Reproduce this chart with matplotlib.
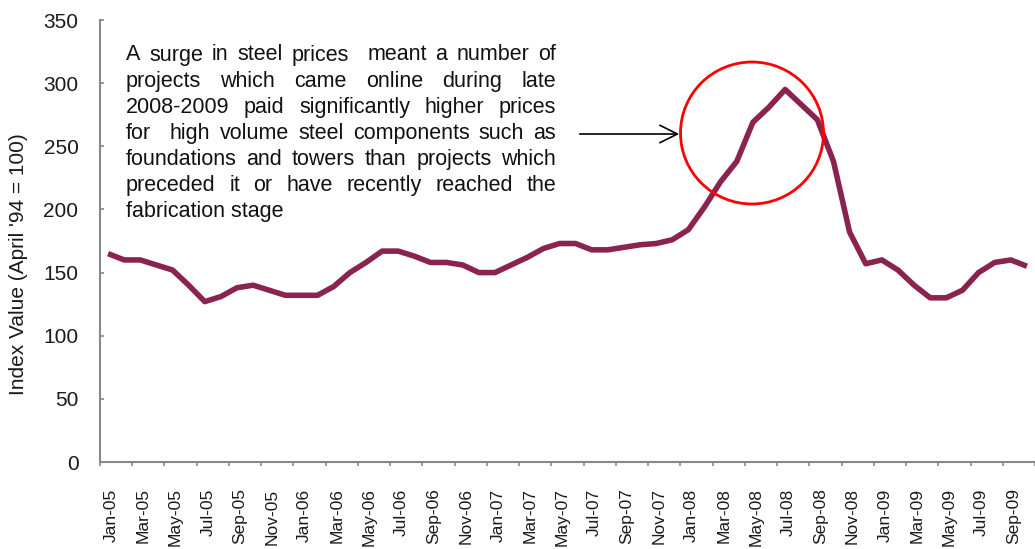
import matplotlib
matplotlib.use("Agg")
import matplotlib.pyplot as plt
import matplotlib.transforms as mtransforms
from matplotlib.patches import Ellipse, FancyArrowPatch

months = ["Jan", "Feb", "Mar", "Apr", "May", "Jun", "Jul", "Aug", "Sep", "Oct", "Nov", "Dec"]
years = ["05", "06", "07", "08", "09"]
categories = [f"{m}-{y}" for y in years for m in months][:58]  # Jan-05 .. Oct-09

values = [165, 160, 160, 156, 152, 140, 127, 131, 138, 140, 136, 132,
          132, 132, 139, 150, 158, 167, 167, 163, 158, 158, 156, 150,
          150, 156, 162, 169, 173, 173, 168, 168, 170, 172, 173, 176,
          184, 202, 222, 238, 269, 281, 295, 283, 271, 238, 182, 157,
          160, 152, 140, 130, 130, 136, 150, 158, 160, 155]

y_ticks = [0, 50, 100, 150, 200, 250, 300, 350]
y_label = "Index Value (April '94 = 100)"
note_lines = [
    "A surge in steel prices  meant a number of",
    "projects which came online during late",
    "2008-2009 paid significantly higher prices",
    "for  high volume steel components such as",
    "foundations and towers than projects which",
    "preceded it or have recently reached the",
    "fabrication stage",
]

W, H = 1035, 549
plt.rcParams['font.family'] = ['Liberation Sans', 'DejaVu Sans']
fig = plt.figure(figsize=(W / 100, H / 100), dpi=100)
ax = fig.add_axes([100 / W, 1 - 462 / H, 1 - 100 / W, (462 - 20) / H])

x = list(range(len(values)))
ax.plot(x, values, color='#8B2351', lw=4.0, solid_joinstyle='round', solid_capstyle='butt')

ax.set_xlim(-0.5, 56.75)
ax.set_ylim(0, 350)
ax.set_yticks(y_ticks)
ax.set_yticklabels([str(v) for v in y_ticks], fontsize=15, color='#1a1a1a')
ax.tick_params(axis='y', direction='in', length=3, width=1.2, color='#888888', pad=15.5)

# category boundary ticks every two categories (major, no labels), labels on every other category (minor)
ax.set_xticks([i - 0.5 for i in range(0, len(values) + 1, 2)])
ax.set_xticklabels([])
ax.set_xticks(list(range(0, len(values), 2)), minor=True)
ax.set_xticklabels([categories[i] for i in range(0, len(values), 2)], minor=True,
                   rotation=90, fontsize=12.5, color='#1a1a1a', va='top', ha='center')
ax.tick_params(axis='x', which='major', direction='out', length=3, width=1.2, color='#888888')
ax.tick_params(axis='x', which='minor', length=0, pad=19)
shift = mtransforms.ScaledTranslation(3 / 100, 0, fig.dpi_scale_trans)
for lbl in ax.get_xticklabels(minor=True):
    lbl.set_transform(lbl.get_transform() + shift)

for s in ['top', 'right']:
    ax.spines[s].set_visible(False)
for s in ['left', 'bottom']:
    ax.spines[s].set_color('#888888')
    ax.spines[s].set_linewidth(1.5)

fig.text(19 / W, 1 - 264 / H, y_label, rotation=90, fontsize=15, color='#1a1a1a',
         ha='center', va='center')

# justified annotation text
fig.canvas.draw()
renderer = fig.canvas.get_renderer()
x0, x1 = 126, 556
base0, pitch = 60.5, 26.1
fs = 15.5
for k, line in enumerate(note_lines):
    yb = 1 - (base0 + pitch * k) / H
    if k == len(note_lines) - 1:
        fig.text(x0 / W, yb, line, fontsize=fs, ha='left', va='baseline', color='#111111')
        continue
    words = line.split(' ')
    objs, widths = [], []
    for w in words:
        t = fig.text(0, yb, w, fontsize=fs, ha='left', va='baseline', color='#111111')
        objs.append(t)
        widths.append(t.get_window_extent(renderer).width if w else 0.0)
    gap = (x1 - x0 - sum(widths)) / (len(words) - 1)
    pos = x0
    for t, wd in zip(objs, widths):
        t.set_x(pos / W)
        pos += wd + gap

# arrow
fig.add_artist(FancyArrowPatch(
    (577 / W, 1 - 134 / H), (682 / W, 1 - 134 / H), transform=fig.transFigure,
    arrowstyle='->,head_length=0.9,head_width=0.45', mutation_scale=14, lw=1.2, color='black'))

# circle
fig.add_artist(Ellipse((752 / W, 1 - 133 / H), 143 / W, 142 / H, transform=fig.transFigure,
                       fill=False, edgecolor='#FF0000', lw=2.0))

fig.savefig('out.png', dpi=100)
